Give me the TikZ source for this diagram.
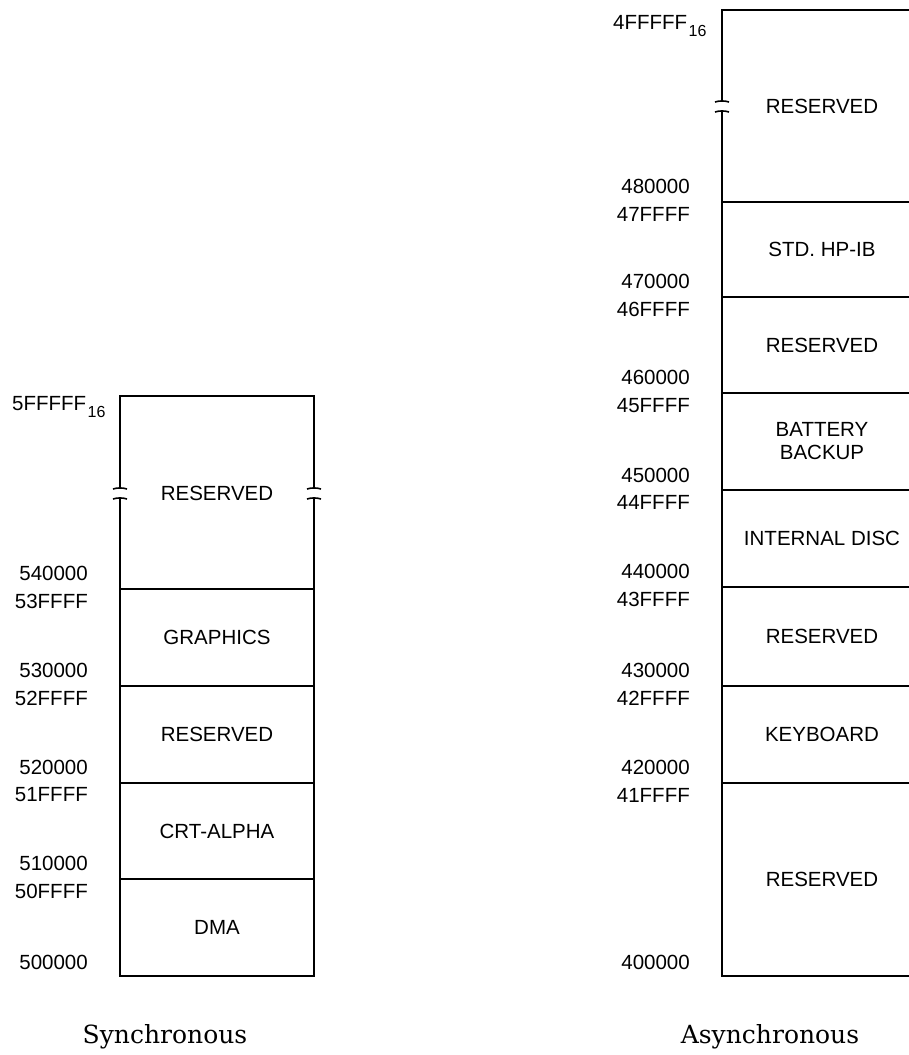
\documentclass[tikz,border=0pt]{standalone}
\usepackage{fontspec}
\setmainfont{Liberation Sans}
\newfontfamily\capfont{DejaVu Serif}
\newcommand{\sixteen}{\kern1.5pt\raisebox{-7.4pt}{\fontsize{16}{16}\selectfont 16}}
\begin{document}
\begin{tikzpicture}[x=1pt,y=-1pt,
  mapline/.style={line width=1.7pt},
  brk/.style={line width=1.6pt},
  addr/.style={font=\fontsize{20.5}{24}\selectfont, inner sep=0pt, anchor=east},
  addrsub/.style={font=\fontsize{20.5}{24}\selectfont, inner sep=0pt, anchor=base west},
  region/.style={font=\fontsize{20.5}{23}\selectfont, align=center, inner sep=0pt},
  captxt/.style={font=\capfont\fontsize{25}{30}\selectfont, inner sep=0pt, anchor=base}]
\clip (0,0) rectangle (909,1055);
\fill[white] (0,0) rectangle (909,1055);

% ---------- Synchronous (left) map ----------
\draw[mapline] (120,488) -- (120,396) -- (314,396) -- (314,488);
\draw[mapline] (120,498) -- (120,976) -- (314,976) -- (314,498);
\foreach \yy in {589,686,783,879} \draw[mapline] (120,\yy) -- (314,\yy);
\foreach \xx in {120,314} {
  \draw[brk] (\xx-7,489) .. controls (\xx-3,487.6) and (\xx+3,487.6) .. (\xx+7,489);
  \draw[brk] (\xx-7,499) .. controls (\xx-3,497.6) and (\xx+3,497.6) .. (\xx+7,499);
}

\node[region] (lres1) at (217,493) {RESERVED};
\node[region] (lgfx)  at (217,637.5) {GRAPHICS};
\node[region] (lres2) at (217,734.5) {RESERVED};
\node[region] (lcrt)  at (217,831) {CRT-ALPHA};
\node[region] (ldma)  at (217,927.5) {DMA};

\node[addrsub] (a5f) at (12,410) {5FFFFF\sixteen};
\node[addr] (a54) at (88,573) {540000};
\node[addr] (a53f) at (88,601) {53FFFF};
\node[addr] (a53) at (88,670) {530000};
\node[addr] (a52f) at (88,698) {52FFFF};
\node[addr] (a52) at (88,767) {520000};
\node[addr] (a51f) at (88,795) {51FFFF};
\node[addr] (a51) at (88,863) {510000};
\node[addr] (a50f) at (88,891) {50FFFF};
\node[addr] (a50) at (88,962) {500000};

\node[captxt] (capsync) at (165,1043) {Synchronous};

% ---------- Asynchronous (right) map ----------
\draw[mapline] (722,101) -- (722,10) -- (930,10);
\draw[mapline] (722,111) -- (722,976) -- (930,976);
\draw[brk] (715,102) .. controls (719,100.6) and (725,100.6) .. (729,102);
\draw[brk] (715,112) .. controls (719,110.6) and (725,110.6) .. (729,112);
\foreach \yy in {202,297,393,490,587,686,783} \draw[mapline] (722,\yy) -- (930,\yy);

\node[region] (rres1) at (822,106) {RESERVED};
\node[region] (rhpib) at (822,249.5) {STD. HP-IB};
\node[region] (rres2) at (822,345) {RESERVED};
\node[region] (rbat)  at (822,441.5) {BATTERY\\BACKUP};
\node[region] (rdisc) at (822,538.5) {INTERNAL DISC};
\node[region] (rres3) at (822,636.5) {RESERVED};
\node[region] (rkbd)  at (822,734.5) {KEYBOARD};
\node[region] (rres4) at (822,879.5) {RESERVED};

\node[addrsub] (b4f) at (613,29) {4FFFFF\sixteen};
\node[addr] (b48) at (690,186) {480000};
\node[addr] (b47f) at (690,214) {47FFFF};
\node[addr] (b47) at (690,281) {470000};
\node[addr] (b46f) at (690,309) {46FFFF};
\node[addr] (b46) at (690,377) {460000};
\node[addr] (b45f) at (690,406) {45FFFF};
\node[addr] (b45) at (690,475) {450000};
\node[addr] (b44f) at (690,502) {44FFFF};
\node[addr] (b44) at (690,571) {440000};
\node[addr] (b43f) at (690,599) {43FFFF};
\node[addr] (b43) at (690,670) {430000};
\node[addr] (b42f) at (690,698) {42FFFF};
\node[addr] (b42) at (690,767) {420000};
\node[addr] (b41f) at (690,795) {41FFFF};
\node[addr] (b40) at (690,962) {400000};

\node[captxt] (capasync) at (770,1043) {Asynchronous};
\end{tikzpicture}
\end{document}
